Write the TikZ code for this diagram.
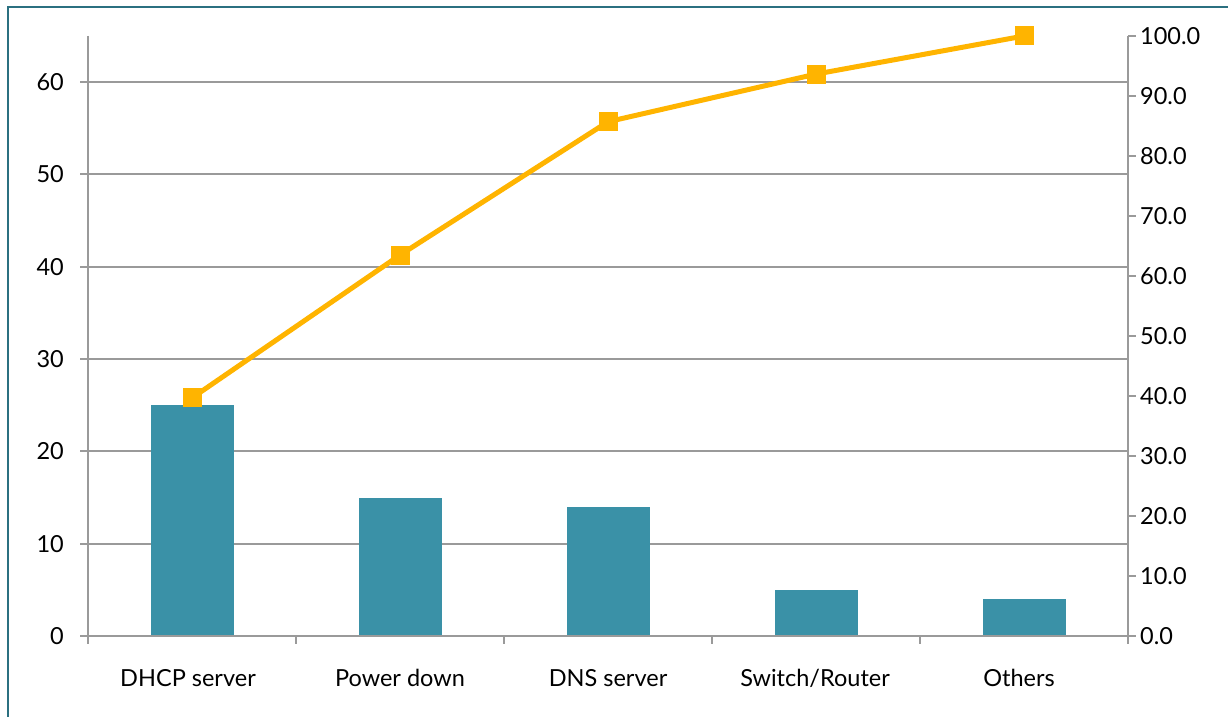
\documentclass[tikz,border=0pt]{standalone}
\usepackage{fontspec}
\setmainfont{Lato}
\definecolor{barteal}{HTML}{3A91A7}
\definecolor{lineamber}{HTML}{FFB400}
\definecolor{frameteal}{HTML}{2B7080}
\definecolor{gridgray}{HTML}{9A9A9A}

\tikzset{
  bar/.style={fill=barteal},
  cumline/.style={draw=lineamber, line width=5pt},
  marker/.style={fill=lineamber, minimum size=19pt, inner sep=0pt},
  gridline/.style={draw=gridgray, line width=2pt},
  ticklabel/.style={font=\fontsize{23.5}{28}\selectfont, inner sep=0pt},
}

\begin{document}
\begin{tikzpicture}[x=1pt, y=1pt]
  \useasboundingbox (0,0) rectangle (1228,717);

  % Frame
  \draw[frameteal, line width=2.5pt] (8,-5) -- (8,710) -- (1235,710);

  % Grid and left axis
  \foreach \v in {10,20,...,60}
    \draw[gridline] (80,{81+\v*9.233}) -- (1128,{81+\v*9.233});
  \foreach \v in {0,10,...,60}
    \node[ticklabel, anchor=east] (l\v) at (64,{81+\v*9.233}) {\v};
  \draw[gridline] (88,681) -- (88,81);
  \draw[gridline] (1128,681) -- (1128,73);

  % Right axis ticks
  \foreach \p in {0,10,...,100} {
    \draw[gridline] (1128,{81+\p*6}) -- (1136,{81+\p*6});
    \node[ticklabel, anchor=west] (r\p) at (1140,{81+\p*6}) {\p.0};
  }

  % Bars
  \fill[bar] (150.5,81) rectangle (233.5,{81+25*9.233});
  \fill[bar] (358.5,81) rectangle (441.5,{81+15*9.233});
  \fill[bar] (566.5,81) rectangle (649.5,{81+14*9.233});
  \fill[bar] (774.5,81) rectangle (857.5,{81+5*9.233});
  \fill[bar] (982.5,81) rectangle (1065.5,{81+4*9.233});

  % Category axis
  \draw[gridline] (80,81) -- (1136,81);
  \foreach \x in {88,296,...,1128}
    \draw[gridline] (\x,81) -- (\x,73);
  \node[ticklabel] (c1) at (188,39) {DHCP server};
  \node[ticklabel] (c2) at (400,39) {Power down};
  \node[ticklabel] (c3) at (608,39) {DNS server};
  \node[ticklabel] (c4) at (815,39) {Switch/Router};
  \node[ticklabel] (c5) at (1019,39) {Others};

  % Cumulative percentage
  \coordinate (p1) at (192,{81+39.68*6});
  \coordinate (p2) at (400,{81+63.49*6});
  \coordinate (p3) at (608,{81+85.71*6});
  \coordinate (p4) at (816,{81+93.65*6});
  \coordinate (p5) at (1024,{81+100*6});
  \draw[cumline] (p1) -- (p2) -- (p3) -- (p4) -- (p5);
  \node[marker] (m1) at (p1) {};
  \node[marker] (m2) at (p2) {};
  \node[marker] (m3) at (p3) {};
  \node[marker] (m4) at (p4) {};
  \node[marker] (m5) at (p5) {};
\end{tikzpicture}
\end{document}
